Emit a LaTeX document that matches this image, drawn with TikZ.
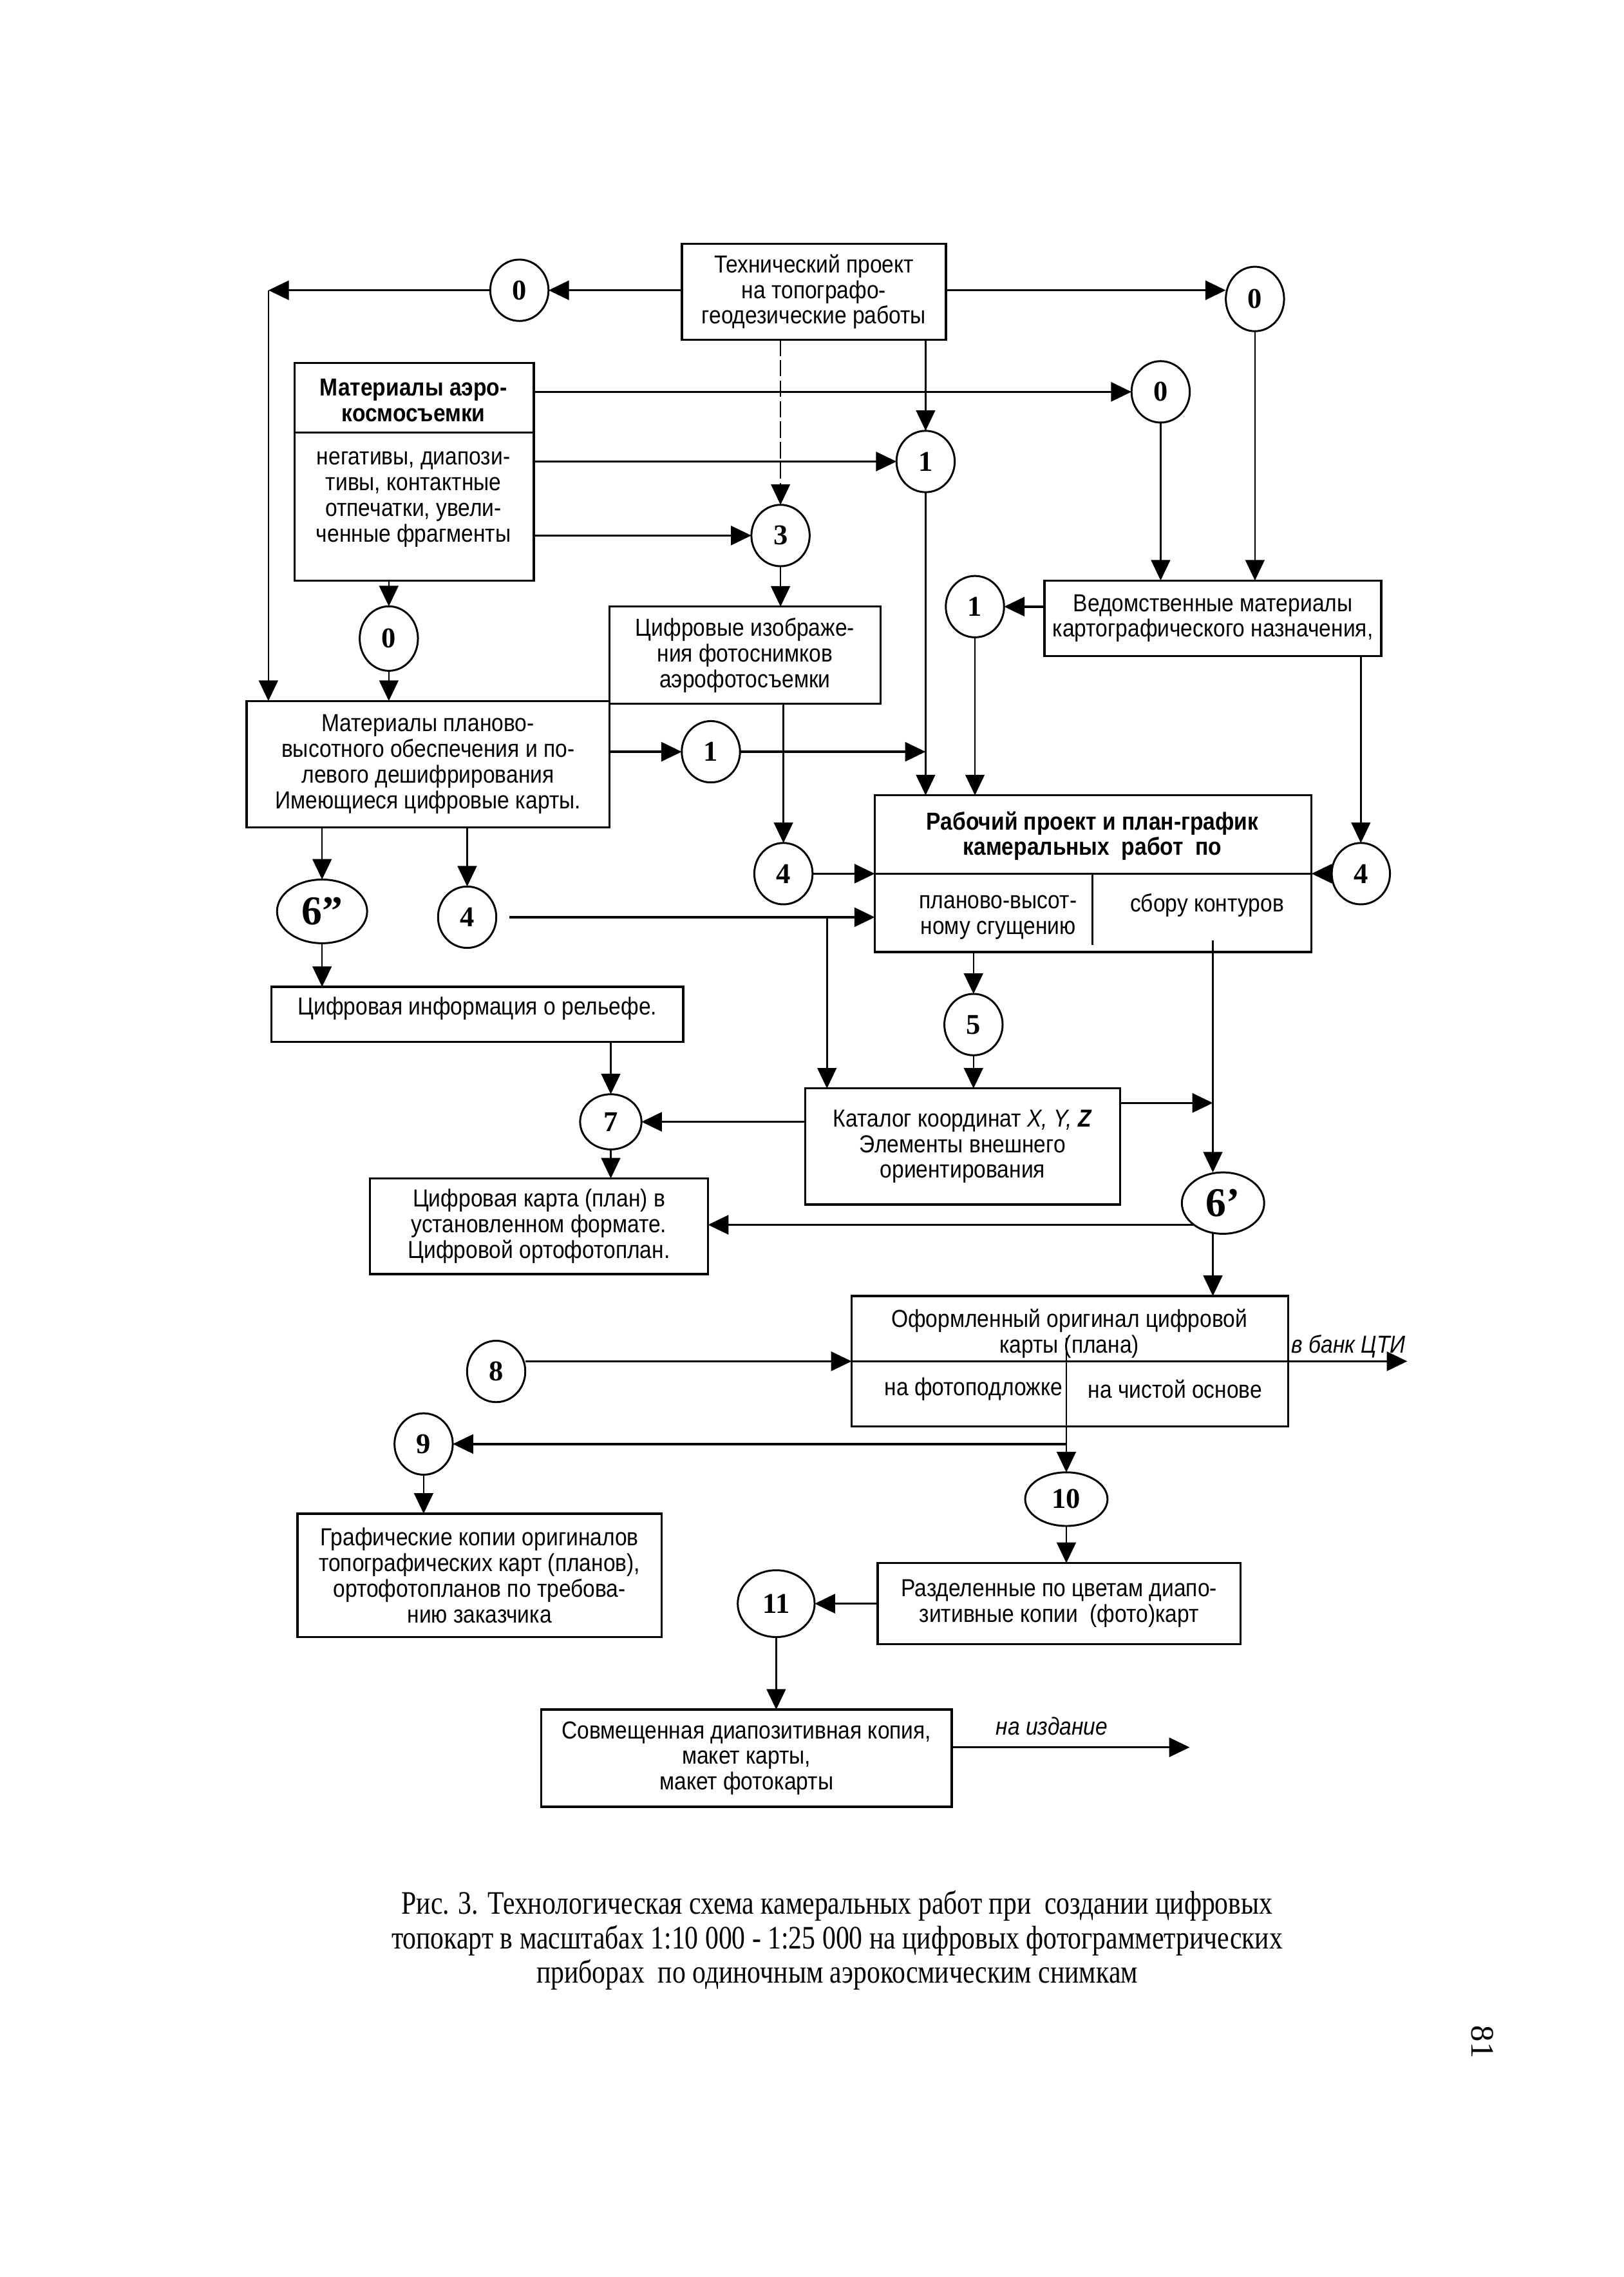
\documentclass[tikz,border=0pt]{standalone}
\usepackage{fontspec}
\setmainfont{Liberation Sans}[FakeStretch=0.88]
\newfontfamily\numfont{Liberation Serif}
\newfontfamily\capfont{Liberation Serif}[FakeStretch=0.82]
\usetikzlibrary{arrows.meta,shapes.geometric}
\newcommand\boxfs{\fontsize{9}{9.4}\selectfont}
\newcommand\mybox[6]{\node[box, minimum width={(#4-#2)*0.18677mm}, minimum height={(#5-#3)*0.18677mm}] (#1) at ({(#2+#4)/2},{(#3+#5)/2}) {#6};}
\tikzset{
  box/.style={draw, line width=0.8pt, inner sep=0pt, outer sep=0pt, align=center, font=\boxfs},
  txt/.style={align=center, inner sep=0pt, font=\boxfs},
  div/.style={line width=0.7pt},
  num/.style={ellipse, draw, line width=0.7pt, inner sep=0pt, outer sep=0pt, minimum width=7.5mm, minimum height=7.9mm, font=\numfont\bfseries\fontsize{10.5}{10.5}\selectfont},
  bignum/.style={num, font=\numfont\bfseries\fontsize{15}{15}\selectfont},
  arr/.style={-{Triangle[length=7.5pt,width=7pt]}, line width=0.6pt},
  harr/.style={arr, line width=0.85pt},
  lbl/.style={inner sep=1pt, font=\itshape\fontsize{9}{9.4}\selectfont},
  captxt/.style={align=center, inner sep=0pt, font=\capfont\fontsize{12}{12.66}\selectfont},
}
\begin{document}
\begin{tikzpicture}[x=0.18677mm, y=-0.18677mm]
\useasboundingbox (0,0) rectangle (1119,1569);

% boxes
\mybox{T}{470}{168}{652}{234}{Технический проект\\на топографо-\\геодезические работы}
\mybox{MA}{203}{250}{368}{400}{}
\node[txt, font=\boxfs\bfseries] (maT) at (285,276) {Материалы аэро-\\космосъемки};
\node[txt] (maB) at (285,344) {негативы, диапози-\\тивы, контактные\\отпечатки, увели-\\ченные фрагменты};
\draw[div] (203,298) -- (368,298);
\mybox{V}{720}{400}{952}{452}{Ведомственные материалы\\картографического назначения,}
\mybox{CI}{420}{418}{607}{485}{Цифровые изображе-\\ния фотоснимков\\аэрофотосъемки}
\mybox{MP}{170}{483}{420}{570}{Материалы планово-\\высотного обеспечения и по-\\левого дешифрирования\\Имеющиеся цифровые карты.}
\mybox{R}{603}{548}{904}{656}{}
\node[txt, font=\boxfs\bfseries] (rT) at (753,576) {Рабочий проект и план-график\\камеральных\ \ работ\ \ по};
\node[txt] (rB1) at (688,632) {планово-высот-\\ному сгущению};
\node[txt] (rB2) at (832,624) {сбору контуров};
\draw[div] (603,602) -- (904,602);
\draw[div] (753,602) -- (753,651);
\mybox{CR}{187}{680}{471}{718}{}
\node[txt] (crT) at (329,695) {Цифровая информация о рельефе.};
\mybox{K}{555}{750}{772}{830}{Каталог координат \textit{X, Y,} \textbf{\textit{Z}}\\Элементы внешнего\\ориентирования}
\mybox{CK}{255}{812}{488}{878}{Цифровая карта (план) в\\установленном формате.\\Цифровой ортофотоплан.}
\mybox{O}{587}{893}{888}{983}{}
\node[txt] (oT) at (737,919) {Оформленный оригинал цифровой\\карты (плана)};
\node[txt] (oB1) at (671,957) {на фотоподложке};
\node[txt] (oB2) at (810,957) {на чистой основе};
\draw[div] (587,938) -- (888,938);
\draw[div] (735,922) -- (735,983);
\mybox{G}{205}{1043}{456}{1128}{Графические копии оригиналов\\топографических карт (планов),\\ортофотопланов по требова-\\нию заказчика}
\mybox{RZ}{605}{1077}{855}{1133}{Разделенные по цветам диапо-\\зитивные копии\ \ (фото)карт}
\mybox{S}{373}{1178}{656}{1245}{Совмещенная диапозитивная копия,\\макет карты,\\макет фотокарты}

% circles
\node[num] (c0a) at (358,200) {0};
\node[num, minimum height=8.3mm] (c0b) at (865,206) {0};
\node[num] (c0c) at (800,270) {0};
\node[num] (c1a) at (638,318) {1};
\node[num] (c3) at (538,369) {3};
\node[num, minimum height=8.3mm] (c0d) at (268,440) {0};
\node[num] (c1c) at (672,418) {1};
\node[num] (c1b) at (490,518) {1};
\node[num] (c4a) at (540,602) {4};
\node[num] (c4b) at (938,602) {4};
\node[bignum, minimum width=11.6mm, minimum height=8.2mm] (c6pp) at (222,628) {6”};
\node[num] (c4c) at (322,632) {4};
\node[num] (c5) at (671,706) {5};
\node[num, minimum width=7.9mm, minimum height=7.1mm] (c7) at (421,773) {7};
\node[bignum, minimum width=10.6mm, minimum height=7.9mm] (c6p) at (843,829) {6’};
\node[num] (c8) at (342,945) {8};
\node[num] (c9) at (292,995) {9};
\node[num, minimum width=10.6mm, minimum height=6.9mm] (c10) at (735,1033) {10};
\node[num, minimum width=9.9mm, minimum height=8.6mm] (c11) at (535,1105) {11};

% free coordinates
\coordinate (cL) at (185,200);
\coordinate (b4) at (570,632);
\coordinate (rs) at (836,648);
\coordinate (kj) at (836,760);
\coordinate (bank) at (970,938);
\coordinate (b9) at (735,995);
\coordinate (izd) at (820,1204);

% connectors
\draw[harr] (T.west |- c0a) -- (c0a.east);
\draw[harr] (c0a.west) -- (cL);
\draw[arr] (cL) -- (cL |- MP.north);
\draw[harr] (T.east |- c0a) -- (c0b.west |- c0a);
\draw[arr] (c0b.south) -- (c0b.south |- V.north);
\draw[arr] (T.south -| c1a) -- (c1a.north);
\draw[arr, line width=0.45pt, dash pattern=on 6pt off 1.5pt] (T.south -| c3) -- (c3.north);
\draw[harr] (MA.east |- c0c) -- (c0c.west);
\draw[arr] (c0c.south) -- (c0c.south |- V.north);
\draw[harr] (MA.east |- c1a) -- (c1a.west);
\draw[harr] (MA.east |- c3) -- (c3.west);
\draw[arr] (c3.south) -- (c3.south |- CI.north);
\draw[arr] (MA.south -| c0d) -- (c0d.north);
\draw[arr] (c0d.south) -- (c0d.south |- MP.north);
\draw[harr] (MP.east |- c1b) -- (c1b.west);
\draw[harr] (c1b.east) -- (c1b -| c1a);
\draw[arr] (c1a.south) -- (c1a.south |- R.north);
\draw[harr] (V.west |- c1c) -- (c1c.east);
\draw[arr] (c1c.south) -- (c1c.south |- R.north);
\draw[arr] (CI.south -| c4a) -- (c4a.north);
\draw[harr] (c4a.east) -- (c4a -| R.west);
\draw[arr] (V.south -| c4b) -- (c4b.north);
\draw[harr] (c4b.west) -- (c4b -| R.east);
\draw[arr] (MP.south -| c6pp) -- (c6pp.north);
\draw[arr] (c6pp.south) -- (c6pp.south |- CR.north);
\draw[arr] (MP.south -| c4c) -- (c4c.north);
\draw[harr, shorten <=1.7mm] (c4c.east) -- (c4c -| R.west);
\draw[arr] (b4) -- (b4 |- K.north);
\draw[arr] (CR.south -| c7) -- (c7.north);
\draw[arr] (c7.south) -- (c7.south |- CK.north);
\draw[arr] (R.south -| c5) -- (c5.north);
\draw[arr] (c5.south) -- (c5.south |- K.north);
\draw[harr] (K.west |- c7) -- (c7.east);
\draw[harr] (K.east |- kj) -- (kj);
\draw[arr] (rs) -- (rs |- c6p.north);
\draw[harr] (c6p.south west) -- (c6p.south west -| CK.east);
\draw[arr] (c6p.south -| rs) -- (rs |- O.north);
\draw[harr] (c8.east |- O.west) -- (O.west);
\draw[harr] (O.east) -- (bank);
\node[lbl, anchor=south west] (lbank) at (O.east) {в банк ЦТИ};
\draw[arr] (O.south -| c10) -- (c10.north);
\draw[harr] (b9) -- (c9.east);
\draw[arr] (c9.south) -- (c9.south |- G.north);
\draw[arr] (c10.south) -- (c10.south |- RZ.north);
\draw[harr] (RZ.west |- c11) -- (c11.east);
\draw[arr] (c11.south) -- (c11.south |- S.north);
\draw[harr] (S.east |- izd) -- (izd);
\node[lbl, anchor=south] (lizd) at (725,1198) {на издание};

% caption and page number
\node[captxt] (caption) at (577,1337) {Рис. 3. Технологическая схема камеральных работ при\ \ создании цифровых\\топокарт в масштабах 1:10 000 - 1:25 000 на цифровых фотограмметрических\\приборах\ \ по одиночным аэрокосмическим снимкам};
\node[rotate=-90, inner sep=0pt, font=\numfont\fontsize{12}{12}\selectfont] (pg) at (1022,1407) {81};
\end{tikzpicture}
\end{document}
